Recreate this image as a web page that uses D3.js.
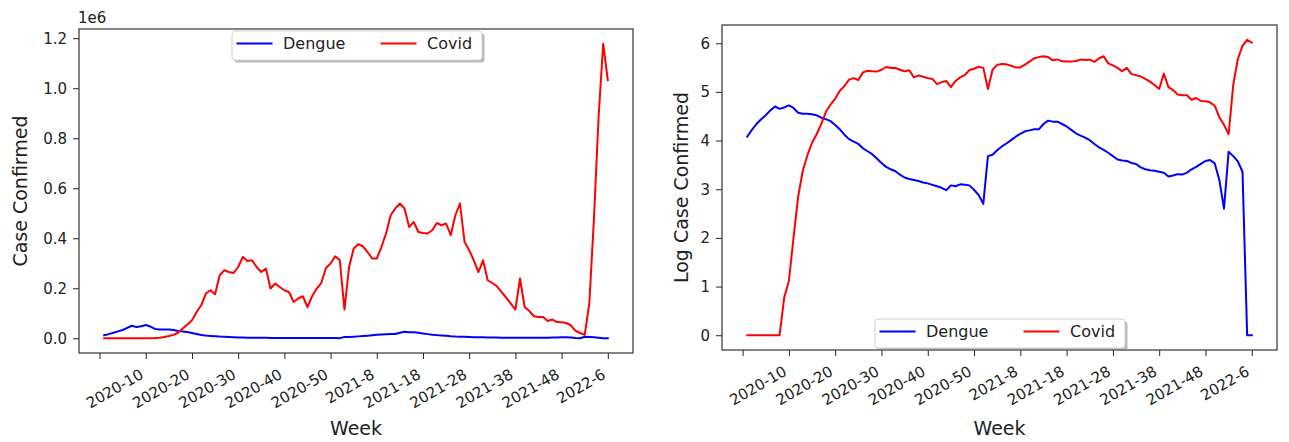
<!DOCTYPE html>
<html>
<head>
<meta charset="utf-8">
<script src="https://d3js.org/d3.v7.min.js"></script>
<style>
body { margin: 0; background: #fff; }
svg { display: block; font-family: "DejaVu Sans", sans-serif; }
.tick text { font-size: 15px; fill: #222; }
.axis_label { font-size: 19px; fill: #222; }
.legend_text { font-size: 16px; fill: #222; }
</style>
</head>
<body>
<svg width="1289" height="442"></svg>
<script>

// weekly categories, 2020-1 .. 2022-6
var weeks = [
  "2020-1","2020-2","2020-3","2020-4","2020-5","2020-6","2020-7","2020-8","2020-9","2020-10",
  "2020-11","2020-12","2020-13","2020-14","2020-15","2020-16","2020-17","2020-18","2020-19","2020-20",
  "2020-21","2020-22","2020-23","2020-24","2020-25","2020-26","2020-27","2020-28","2020-29","2020-30",
  "2020-31","2020-32","2020-33","2020-34","2020-35","2020-36","2020-37","2020-38","2020-39","2020-40",
  "2020-41","2020-42","2020-43","2020-44","2020-45","2020-46","2020-47","2020-48","2020-49","2020-50",
  "2020-51","2020-52",
  "2021-1","2021-2","2021-3","2021-4","2021-5","2021-6","2021-7","2021-8","2021-9","2021-10",
  "2021-11","2021-12","2021-13","2021-14","2021-15","2021-16","2021-17","2021-18","2021-19","2021-20",
  "2021-21","2021-22","2021-23","2021-24","2021-25","2021-26","2021-27","2021-28","2021-29","2021-30",
  "2021-31","2021-32","2021-33","2021-34","2021-35","2021-36","2021-37","2021-38","2021-39","2021-40",
  "2021-41","2021-42","2021-43","2021-44","2021-45","2021-46","2021-47","2021-48","2021-49","2021-50",
  "2021-51","2021-52",
  "2022-1","2022-2","2022-3","2022-4","2022-5","2022-6"
];

var tickWeeks = ["2020-10","2020-20","2020-30","2020-40","2020-50","2021-8",
                 "2021-18","2021-28","2021-38","2021-48","2022-6"];

var dengue = [
  12000,16600,21900,27500,33100,41700,50100,44700,47900,53000,
  46800,37200,35500,35500,34700,33100,29500,27500,25100,20900,
  17000,13200,10700,9550,8510,6920,6030,5250,4270,3470,
  2880,2570,2340,2000,1740,1620,1550,1480,1380,1320,
  1230,1150,1070,955,1200,1150,1260,1230,1200,977,
  759,501,4790,5130,6310,7590,8710,10200,12000,13800,
  15500,16200,17000,17000,21900,25700,24500,24500,21900,19500,
  16600,14100,12600,11500,10200,8510,7240,6460,5620,4790,
  4070,3890,3800,3470,3310,2820,2570,2450,2400,2290,
  2190,1820,1910,2040,2000,2190,2570,2880,3310,3800,
  3980,3390,1550,398,5890,4790,3720,2290,0,0
];

var covid = [
  0,0,0,0,0,0,0,0,6,13,
  100,700,2400,5000,9000,13500,22000,39000,55000,72000,
  105000,132000,179000,192000,176000,252000,272000,265000,261000,285000,
  325000,309000,312000,285000,265000,279000,199000,219000,205000,192000,
  185000,145000,159000,168000,125000,168000,199000,222000,281000,299000,
  328000,312000,115000,285000,359000,376000,368000,345000,319000,319000,
  365000,419000,492000,519000,539000,519000,445000,465000,425000,421000,
  419000,432000,461000,452000,459000,412000,492000,539000,385000,352000,
  312000,265000,312000,232000,221000,208000,185000,163000,139000,115000,
  239000,125000,109000,88000,85000,85000,69000,75000,65000,64000,
  61000,52000,30000,21000,13500,140000,480000,885000,1178000,1032000
];

var seriesNames = ["Dengue", "Covid"];
var seriesColors = ["#0000ff", "#ff0000"];
var caseTicks = [0, 0.2e6, 0.4e6, 0.6e6, 0.8e6, 1.0e6, 1.2e6];
var logTicks = [0, 1, 2, 3, 4, 5, 6];

function log10OrZero(v) { return v > 0 ? Math.log10(v) : 0; }

var svg = d3.select("svg");

function drawPanel(box, series, yTicks, yFormat, yLabel, yLabelX, legendBox, exponent) {
  var g = svg.append("g");
  var n = weeks.length;

  var x = d3.scaleLinear()
      .domain([-(n - 1) * 0.05, (n - 1) * 1.05])
      .range([box.left, box.right]);

  var lo = d3.min(series, function(s) { return d3.min(s); }),
      hi = d3.max(series, function(s) { return d3.max(s); }),
      pad = (hi - lo) * 0.05;
  var y = d3.scaleLinear()
      .domain([lo - pad, hi + pad])
      .range([box.bottom, box.top]);

  var line = d3.line()
      .x(function(d, i) { return x(i); })
      .y(function(d) { return y(d); });

  series.forEach(function(s, k) {
    g.append("path")
      .datum(s)
      .attr("fill", "none")
      .attr("stroke", seriesColors[k])
      .attr("stroke-width", 2)
      .attr("stroke-linejoin", "round")
      .attr("stroke-linecap", "square")
      .attr("d", line);
  });

  // x ticks: one unlabeled tick a step before the first week, then every 10 weeks
  var tickPos = [-1].concat(tickWeeks.map(function(w) { return weeks.indexOf(w); }));
  var gx = g.append("g")
      .attr("transform", "translate(0," + box.bottom + ")")
      .attr("color", "#222")
      .call(d3.axisBottom(x).tickValues(tickPos)
        .tickFormat(function(i) { return weeks[i] || ""; })
        .tickSize(6).tickSizeOuter(0));
  gx.attr("font-size", null).attr("font-family", null);
  gx.select(".domain").remove();
  gx.selectAll(".tick text")
      .attr("y", 0).attr("dy", null)
      .attr("text-anchor", "end")
      .attr("transform", "translate(-1.7,24.5) rotate(-30)");

  var gy = g.append("g")
      .attr("transform", "translate(" + box.left + ",0)")
      .attr("color", "#222")
      .call(d3.axisLeft(y).tickValues(yTicks).tickFormat(yFormat)
        .tickSize(6).tickPadding(6).tickSizeOuter(0));
  gy.attr("font-size", null).attr("font-family", null);
  gy.select(".domain").remove();

  g.append("rect")
      .attr("x", box.left).attr("y", box.top)
      .attr("width", box.right - box.left).attr("height", box.bottom - box.top)
      .attr("fill", "none").attr("stroke", "#333").attr("stroke-width", 1.2);

  if (exponent) {
    g.append("text")
      .attr("x", box.left - 1).attr("y", box.top - 6)
      .style("font-size", "15px").style("fill", "#222")
      .text(exponent);
  }

  g.append("text")
      .attr("class", "axis_label")
      .attr("text-anchor", "middle")
      .attr("x", (box.left + box.right) / 2)
      .attr("y", 435)
      .text("Week");

  g.append("text")
      .attr("class", "axis_label")
      .attr("text-anchor", "middle")
      .attr("transform", "translate(" + yLabelX + "," + (box.top + box.bottom) / 2 + ") rotate(-90)")
      .text(yLabel);

  // legend with shadow
  var lg = g.append("g").attr("transform", "translate(" + legendBox.x + "," + legendBox.y + ")");
  lg.append("rect")
      .attr("x", 2.5).attr("y", 2.5)
      .attr("width", 250).attr("height", 29).attr("rx", 3)
      .attr("fill", "#7f7f7f").attr("fill-opacity", 0.55);
  lg.append("rect")
      .attr("x", 0).attr("y", 0)
      .attr("width", 250).attr("height", 29).attr("rx", 3)
      .attr("fill", "#fff").attr("stroke", "#d0d0d0").attr("stroke-width", 1);
  seriesNames.forEach(function(name, k) {
    var ox = k * 144;
    lg.append("line")
      .attr("x1", ox + 4.5).attr("x2", ox + 40.5)
      .attr("y1", 12.5).attr("y2", 12.5)
      .attr("stroke", seriesColors[k]).attr("stroke-width", 2);
    lg.append("text")
      .attr("class", "legend_text")
      .attr("x", ox + 51).attr("y", 18.3)
      .text(name);
  });
}

drawPanel({left: 79, right: 633, top: 29, bottom: 353},
  [dengue, covid], caseTicks,
  function(d) { return (d / 1e6).toFixed(1); },
  "Case Confirmed", 27, {x: 232, y: 31}, "1e6");

drawPanel({left: 722, right: 1277, top: 25, bottom: 350},
  [dengue.map(log10OrZero), covid.map(log10OrZero)], logTicks,
  function(d) { return d; },
  "Log Case Confirmed", 688, {x: 875, y: 319}, null);

</script>
</body>
</html>
